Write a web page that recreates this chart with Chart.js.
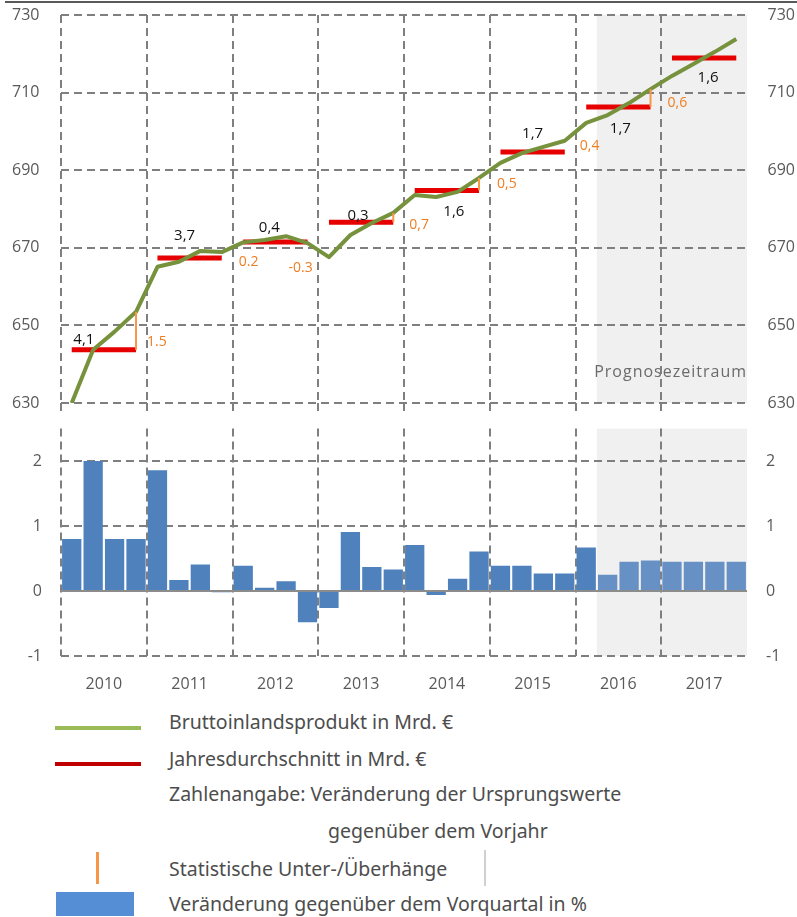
<!DOCTYPE html>
<html lang="de">
<head>
<meta charset="utf-8">
<script src="https://cdn.jsdelivr.net/npm/chart.js@4.4.1/dist/chart.umd.min.js"></script>
<style>
  html, body { margin: 0; padding: 0; background: #fff; }
  body { width: 797px; height: 917px; position: relative; overflow: hidden;
         font-family: "Noto Sans", sans-serif; }
  #topWrap { position: absolute; left: 0; top: 0; width: 797px; height: 420px; }
  #bottomWrap { position: absolute; left: 0; top: 400px; width: 797px; height: 298px; }
  #topRule { position: absolute; left: 5px; top: 1px; width: 792px; height: 2px; background: #5a5a5a; }
  .leg { position: absolute; left: 169px; color: #4d4d4d; font-size: 19.5px; line-height: 22px; white-space: nowrap; }
  .sym { position: absolute; }
</style>
</head>
<body>
<div id="topWrap"><canvas id="topCanvas"></canvas></div>
<div id="bottomWrap"><canvas id="bottomCanvas"></canvas></div>
<div id="topRule"></div>

<div class="sym" style="left:55px;top:726px;width:86px;height:4px;background:#9bbb59"></div>
<div class="leg" style="top:711px">Bruttoinlandsprodukt in Mrd. €</div>
<div class="sym" style="left:55px;top:762px;width:86px;height:4px;background:#c00000"></div>
<div class="leg" style="top:748px">Jahresdurchschnitt in Mrd. €</div>
<div class="leg" style="top:783px">Zahlenangabe: Veränderung der Ursprungswerte</div>
<div class="leg" style="top:820px;left:328px">gegenüber dem Vorjahr</div>
<div class="sym" style="left:96px;top:852px;width:3px;height:32px;background:#f79646"></div>
<div class="leg" style="top:858px">Statistische Unter-/Überhänge</div>
<div class="sym" style="left:484px;top:850px;width:2px;height:36px;background:#d0d0d0"></div>
<div class="sym" style="left:56px;top:892px;width:78px;height:24px;background:#558ed5"></div>
<div class="leg" style="top:893px">Veränderung gegenüber dem Vorquartal in %</div>

<script>
const years = ['2010', '2011', '2012', '2013', '2014', '2015', '2016', '2017'];
const quarters = years.flatMap(y => ['Q1', 'Q2', 'Q3', 'Q4'].map(q => q + ' ' + y));

// BIP in Mrd. €, quartalsweise
const gdp = [
  630.0, 643.7, 648.4, 653.5,
  665.1, 666.4, 669.2, 668.9,
  671.4, 672.0, 673.0, 671.2,
  667.6, 673.3, 676.4, 679.0,
  683.6, 683.1, 684.4, 688.0,
  691.9, 694.4, 696.0, 697.6,
  702.2, 704.2, 707.3, 710.9,
  714.3, 717.4, 720.5, 723.8
];
const annualAvg = [643.7, 667.4, 671.5, 676.6, 684.8, 694.7, 706.3, 718.9];
const annualChange = ['4,1', '3,7', '0,4', '0,3', '1,6', '1,7', '1,7', '1,6'];
// Überhang des Jahres i ins Folgejahr
const overhang = ['1.5', '0.2', '-0.3', '0,7', '0,5', '0,4', '0,6'];
const overhangLine = [true, false, false, true, true, false, true];

// Veränderung gegenüber Vorquartal in %
const qoqChange = [
  0.80, 2.00, 0.80, 0.80,
  1.86, 0.17, 0.41, -0.02,
  0.39, 0.05, 0.15, -0.48,
  -0.26, 0.91, 0.37, 0.33,
  0.71, -0.06, 0.19, 0.61,
  0.39, 0.39, 0.27, 0.27,
  0.67, 0.25, 0.45, 0.47,
  0.45, 0.45, 0.45, 0.45
];
const forecastStart = 25; // Q2 2016

// label nudges (px) relative to the annual average line
const changeNudge = [[-20, -10], [-5, -22], [-6, -14], [-3, -6], [7, 21], [0, -18], [2, 22], [4, 20]];
const overhangNudge = [[11, -8], [17, 4], [-19, 26], [16, 3], [18, -6], [15, -6], [17, -4]];

const GRID = '#7f7f7f';
const TICK = '#595959';
const tickFont = { family: 'Open Sans', size: 16 };

function forecastX(x) {
  const half = (x.getPixelForValue(1) - x.getPixelForValue(0)) / 2;
  return x.getPixelForValue(forecastStart) - half;
}

const shadePlugin = {
  id: 'shade',
  beforeDraw(chart, args, opts) {
    const { ctx, chartArea: a, scales: { x } } = chart;
    const x0 = forecastX(x);
    ctx.save();
    ctx.fillStyle = '#f0f0f0';
    ctx.fillRect(x0, a.top, a.right - x0, a.bottom - a.top);
    if (opts.text) {
      ctx.fillStyle = '#6b6b6b';
      ctx.font = '16px "Open Sans"';
      ctx.letterSpacing = '1px';
      ctx.textAlign = 'right';
      ctx.textBaseline = 'middle';
      ctx.fillText(opts.text, a.right, a.bottom - 31);
    }
    ctx.restore();
  }
};

const notesPlugin = {
  id: 'notes',
  afterDatasetsDraw(chart) {
    const { ctx, scales: { x, y } } = chart;
    ctx.save();
    // Überhänge
    overhang.forEach((txt, i) => {
      const qx = x.getPixelForValue(i * 4 + 3);
      const ya = y.getPixelForValue(annualAvg[i]);
      if (overhangLine[i]) {
        ctx.strokeStyle = '#f79646';
        ctx.lineWidth = 2;
        ctx.beginPath();
        ctx.moveTo(qx, ya);
        ctx.lineTo(qx, y.getPixelForValue(gdp[i * 4 + 3]));
        ctx.stroke();
      }
      ctx.fillStyle = '#ef7d22';
      ctx.font = '14px "Open Sans"';
      ctx.textAlign = 'left';
      ctx.textBaseline = 'middle';
      ctx.fillText(txt, qx + overhangNudge[i][0], ya + overhangNudge[i][1]);
    });
    // Jahresveränderung
    annualChange.forEach((txt, i) => {
      const cx = (x.getPixelForValue(i * 4 + 1) + x.getPixelForValue(i * 4 + 2)) / 2;
      const ya = y.getPixelForValue(annualAvg[i]);
      ctx.fillStyle = '#111';
      ctx.font = '15px "Open Sans"';
      ctx.textAlign = 'center';
      ctx.textBaseline = 'middle';
      ctx.fillText(txt, cx + changeNudge[i][0], ya + changeNudge[i][1]);
    });
    ctx.restore();
  }
};

const yearGrid = {
  color: c => c.index % 4 === 0 ? GRID : 'transparent',
  lineWidth: 2,
  offset: true
};

new Chart(document.getElementById('topCanvas'), {
  type: 'line',
  data: {
    labels: quarters,
    datasets: [
      { data: gdp, borderColor: '#76923c', borderWidth: 4, pointRadius: 0, tension: 0,
        borderJoinStyle: 'round' },
      { data: annualAvg.flatMap(v => [v, v, v, v]), borderColor: '#e60000', borderWidth: 5,
        pointRadius: 0, borderCapStyle: 'butt',
        segment: { borderColor: c => c.p0DataIndex % 4 === 3 ? 'transparent' : '#e60000' } }
    ]
  },
  options: {
    responsive: true,
    maintainAspectRatio: false,
    animation: false,
    layout: { padding: { top: 15, left: 12, right: 2, bottom: 0 } },
    plugins: { legend: { display: false }, tooltip: { enabled: false },
               shade: { text: 'Prognosezeitraum' } },
    scales: {
      x: { offset: true, ticks: { display: false, autoSkip: false },
           grid: { ...yearGrid, drawTicks: true, tickLength: 8 },
           border: { display: false, dash: [8, 5] },
           afterFit(s) { s.height = 17; } },
      y: { position: 'left', min: 630, max: 730,
           ticks: { stepSize: 20, color: TICK, font: tickFont, padding: 0, crossAlign: 'far' },
           grid: { color: GRID, lineWidth: 2, drawTicks: false },
           border: { display: false, dash: [8, 5] },
           afterFit(s) { s.width = 49; } },
      y2: { position: 'right', min: 630, max: 730,
            ticks: { stepSize: 20, color: TICK, font: tickFont, padding: 0, crossAlign: 'far' },
            grid: { display: false, drawTicks: false },
            border: { display: false },
            afterFit(s) { s.width = 48; } }
    }
  },
  plugins: [shadePlugin, notesPlugin]
});

const barTicks = [-1, 0, 1, 2];

new Chart(document.getElementById('bottomCanvas'), {
  type: 'bar',
  data: {
    labels: quarters,
    datasets: [{
      data: qoqChange,
      backgroundColor: qoqChange.map((_, i) => i >= forecastStart ? '#6790c4' : '#4f81bd'),
      barPercentage: 1,
      categoryPercentage: 0.9
    }]
  },
  options: {
    responsive: true,
    maintainAspectRatio: false,
    animation: false,
    layout: { padding: 0 },
    plugins: { legend: { display: false }, tooltip: { enabled: false }, shade: {} },
    scales: {
      x: { offset: true, ticks: { display: false, autoSkip: false },
           grid: { ...yearGrid, drawTicks: false },
           border: { display: false, dash: [8, 5] },
           afterFit(s) { s.height = 0; } },
      x2: { type: 'category', labels: years, offset: true, position: 'bottom',
            grid: { display: false, drawTicks: false }, border: { display: false },
            ticks: { color: TICK, font: tickFont, padding: 19 },
            afterFit(s) { s.height = 42; } },
      y: { position: 'left', min: -1, max: 2.5,
           afterBuildTicks(s) { s.ticks = barTicks.map(v => ({ value: v })); },
           ticks: { color: TICK, font: tickFont, padding: 19 },
           grid: { color: c => c.tick && c.tick.value === 0 ? '#8c8c8c' : GRID, lineWidth: 2, drawTicks: false },
           border: { display: false, dash: c => c.tick && c.tick.value === 0 ? [] : [8, 5] },
           afterFit(s) { s.width = 61; } },
      y2: { position: 'right', min: -1, max: 2.5,
            afterBuildTicks(s) { s.ticks = barTicks.map(v => ({ value: v })); },
            ticks: { color: TICK, font: tickFont, padding: 19 },
            grid: { display: false, drawTicks: false },
            border: { display: false },
            afterFit(s) { s.width = 50; } }
    }
  },
  plugins: [shadePlugin]
});
</script>
</body>
</html>
